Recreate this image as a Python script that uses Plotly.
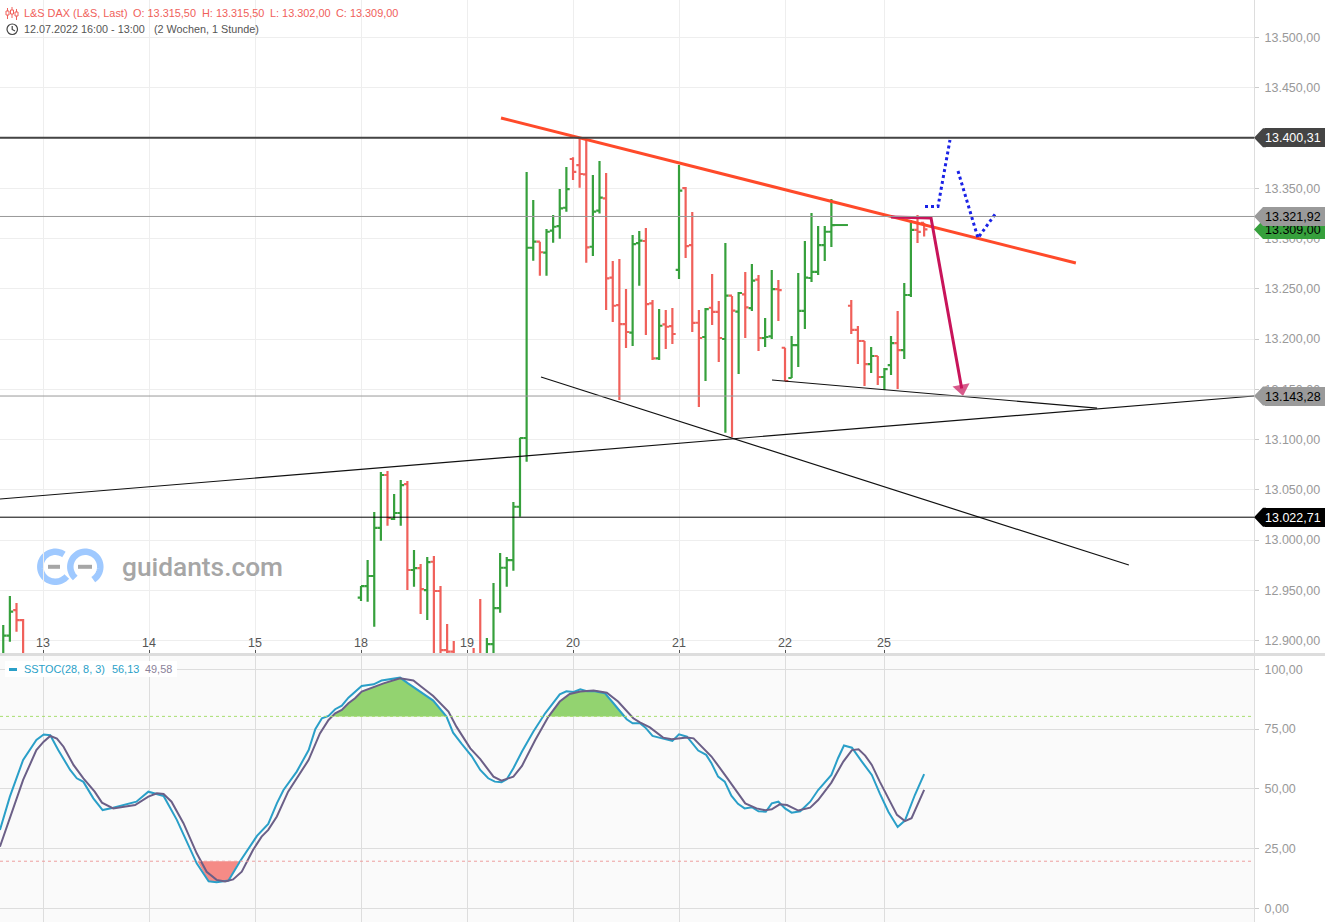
import math
import plotly.graph_objects as go
from plotly.subplots import make_subplots

W, H = 1325, 922

# ---------- price bars ----------
bar_x = [-54, -53, -52, -51,
         0, 1, 2, 3, 4, 5, 6, 7, 8, 9, 10, 11, 12, 13, 14, 17, 18, 19, 20, 21, 22, 23, 24, 25,
         26, 27, 28, 29, 30, 31, 32, 33, 34, 35, 36, 37, 38, 39, 40, 41, 42, 43, 44, 45, 46, 47,
         48, 49, 50, 51, 52, 53, 54, 55, 56, 57, 58, 59, 60, 61, 62, 63,
         64, 65, 66, 67, 68, 69, 70, 71, 74, 75, 76, 77, 78, 79, 80, 81, 82, 83, 84, 85]
bar_open = [12880.6, 12904.8, 12930.3, 12920.4,
            12942.6, 12954.2, 12964.2, 13012.0, 13064.7, 13020.9, 13026.9, 13055.7, 12970.2, 12972.1, 12950.2, 12978.4, 12949.3, 12890.5, 12888.9, 12885.0, 12883.0, 12884.0, 12896.5, 12932.3, 12972.4, 12980.1, 13033.1, 13101.5,
            13290.8, 13296.8, 13286.0, 13307.8, 13312.4, 13330.6, 13379.1, 13373.1, 13363.9, 13291.8, 13327.7, 13340.0, 13261.0, 13233.8, 13214.9, 13206.3, 13295.5, 13297.5, 13235.5, 13180.8, 13214.6, 13212.9,
            13268.7, 13350.2, 13293.5, 13216.2, 13202.0, 13231.1, 13226.9, 13200.0, 13243.1, 13227.2, 13244.5, 13230.8, 13259.0, 13201.0, 13202.7, 13249.7,
            13191.3, 13161.2, 13194.0, 13227.9, 13260.7, 13266.7, 13293.5, 13306.7, 13233.1, 13209.0, 13198.0, 13175.1, 13183.1, 13162.2, 13174.1, 13196.0, 13189.0, 13243.8, 13308.5, 13315.5]
bar_high = [12915.4, 12944.3, 12937.3, 12921.4,
            12954.2, 12980.1, 13027.9, 13067.7, 13068.7, 13045.8, 13059.7, 13058.7, 12990.1, 12976.1, 12983.1, 12984.1, 12954.2, 12916.4, 12899.5, 12892.5, 12941.3, 12902.5, 12957.2, 12987.0, 12983.1, 13037.8, 13101.8, 13366.2,
            13338.3, 13296.8, 13309.4, 13323.4, 13349.2, 13371.1, 13380.8, 13399.7, 13399.0, 13363.2, 13377.1, 13365.2, 13277.6, 13279.6, 13249.7, 13303.5, 13307.5, 13310.4, 13238.8, 13229.8, 13228.9, 13230.8,
            13373.1, 13351.2, 13326.4, 13228.9, 13230.8, 13264.7, 13237.8, 13295.5, 13242.8, 13246.8, 13266.7, 13274.6, 13263.7, 13220.9, 13268.6, 13258.7,
            13191.3, 13203.0, 13265.7, 13297.5, 13325.4, 13312.4, 13312.4, 13339.3, 13238.8, 13212.9, 13198.0, 13192.0, 13183.1, 13171.1, 13203.0, 13227.9, 13255.7, 13318.4, 13323.4, 13315.5]
bar_low = [12880.6, 12898.8, 12908.8, 12880.6,
           12939.3, 12938.6, 12913.7, 12999.3, 13014.2, 13019.9, 13014.2, 12950.2, 12953.6, 12926.4, 12920.4, 12880.6, 12880.6, 12880.6, 12880.6, 12880.6, 12880.6, 12880.6, 12884.6, 12927.7, 12953.6, 12969.5, 13023.2, 13077.9,
           13277.9, 13263.0, 13263.0, 13295.8, 13299.8, 13326.7, 13358.2, 13350.5, 13275.9, 13282.6, 13325.0, 13228.9, 13216.9, 13139.3, 13191.0, 13193.0, 13253.0, 13204.0, 13179.1, 13179.1, 13190.0, 13195.0,
           13259.7, 13280.6, 13207.0, 13132.3, 13158.2, 13213.9, 13177.1, 13106.8, 13102.2, 13165.2, 13201.0, 13227.9, 13188.0, 13192.0, 13200.0, 13217.9,
           13158.2, 13161.2, 13172.1, 13209.9, 13256.7, 13263.7, 13277.6, 13291.5, 13205.0, 13175.1, 13153.2, 13166.2, 13154.2, 13149.3, 13164.2, 13150.2, 13180.1, 13241.8, 13295.5, 13302.0]
bar_close = [12904.8, 12928.7, 12920.4, 12880.6,
             12954.2, 12964.2, 13012.0, 13064.7, 13021.9, 13026.9, 13054.7, 12970.2, 12972.1, 12951.2, 12978.1, 12949.3, 12890.5, 12888.9, 12882.6, 12883.0, 12882.0, 12896.5, 12932.3, 12972.4, 12980.1, 13033.1, 13101.5, 13290.8,
             13296.8, 13286.3, 13306.7, 13311.7, 13330.0, 13349.2, 13366.2, 13364.2, 13291.2, 13326.7, 13340.6, 13260.4, 13233.1, 13214.9, 13207.0, 13294.5, 13297.8, 13234.8, 13180.8, 13213.2, 13212.2, 13205.0,
             13347.6, 13292.5, 13216.0, 13201.0, 13229.8, 13226.9, 13201.0, 13243.1, 13228.2, 13245.8, 13231.5, 13258.0, 13201.0, 13202.0, 13249.7, 13248.7,
             13158.2, 13194.0, 13227.9, 13261.0, 13266.7, 13293.5, 13306.7, 13313.4, 13209.0, 13198.0, 13175.1, 13183.1, 13162.2, 13170.1, 13196.0, 13189.0, 13243.8, 13308.5, 13306.5, 13309.0]

day_ticks = [-48, -32, -16, 0, 16, 32, 48, 64, 79]
day_labels = ["13", "14", "15", "18", "19", "20", "21", "22", "25"]

# ---------- drawn lines (bar index, price) ----------
resistance_x = [21.13, 107.9]
resistance_y = [13419.9, 13275.6]
rising_x = [-54.49, 134.79]
rising_y = [13040.8, 13143.3]
falling_x = [27.17, 115.9]
falling_y = [13162.2, 12975.1]
flat_x = [62.04, 111.1]
flat_y = [13159.2, 13131.3]
close_stub_x = [71, 73.5]
close_stub_y = [13313.4, 13313.4]
arrow_x = [80, 86.04, 90.67]
arrow_y = [13321.4, 13320.4, 13150.7]
dotted_x = [85.13, 87.09, 88.9, None, 90.11, 93.13, 95.85]
dotted_y = [13331.8, 13331.8, 13398.0, None, 13367.2, 13300.5, 13325.4]

level_values = [13400.31, 13321.92, 13143.28, 13022.71]
level_colors = ["#444444", "#999999", "#999999", "#000000"]
level_widths = [2, 1, 1, 1]

tag_values = [13400.31, 13309.00, 13321.92, 13143.28, 13022.71]
tag_labels = ["13.400,31", "13.309,00", "13.321,92", "13.143,28", "13.022,71"]
tag_fills = ["#444444", "#36a03c", "#9a9a9a", "#9a9a9a", "#000000"]
tag_inks = ["#ffffff", "#000000", "#000000", "#000000", "#ffffff"]

header_texts = ["L&amp;S DAX (L&amp;S, Last)", "O: 13.315,50", "H: 13.315,50", "L: 13.302,00", "C: 13.309,00"]
header_lefts = [23, 132, 201, 269, 335]
period_texts = ["12.07.2022 16:00 - 13:00", "(2 Wochen, 1 Stunde)"]
period_lefts = [23, 153]

# ---------- SSTOC ----------
k_x = [-54.5, -53.0, -51.0, -49.0, -47.9, -46.9, -45.7, -43.9, -42.9, -41.9, -40.4, -39.0, -37.4, -35.4, -33.9, -32.1, -29.8, -27.8, -24.8, -23.0, -21.8, -20.0, -18.3, -15.7, -14.0, -12.7, -11.7, -9.7, -7.9, -6.9, -5.9, -4.9, -3.9, -2.9, -1.9, 0.1, 1.9, 3.1, 5.9, 7.1, 8.9, 10.9, 12.9, 13.9, 15.2, 16.7, 18.0,
       19.2, 20.2, 21.2, 22.0, 23.0, 24.3, 26.0, 27.8, 30.0, 31.0, 32.1, 33.1, 34.1, 35.3, 36.8, 38.1, 40.1, 41.0, 42.1, 42.9, 44.0, 45.6, 47.0, 48.0, 49.2, 50.9, 52.1, 52.9, 53.9, 54.9, 55.9, 56.9, 57.9, 59.0, 60.0, 61.1, 62.0, 63.0, 64.0, 65.0, 66.3, 67.8, 69.0, 71.0, 72.0, 72.9, 74.1, 75.6, 77.1, 78.3, 79.6, 81.0, 82.1, 83.6, 85.0]
k_y = [32.8, 46.7, 62.1, 70.4, 72.7, 72.4, 66.2, 57.9, 54.4, 52.9, 46.0, 41.1, 42.1, 43.7, 44.6, 48.8, 47.0, 37.0, 18.8, 11.3, 10.9, 11.6, 19.5, 30.3, 35.3, 43.9, 49.5, 57.2, 66.2, 74.9, 79.5, 80.5, 83.3, 84.8, 88.1, 93.0, 93.7, 95.3, 96.5, 94.1, 90.7, 86.9, 80.2, 73.5, 68.8, 63.7, 57.9,
       54.4, 53.0, 52.7, 54.0, 58.6, 65.6, 73.9, 81.6, 89.5, 90.8, 90.5, 91.6, 90.8, 90.8, 90.0, 85.8, 79.1, 77.4, 77.4, 75.7, 72.1, 71.0, 70.0, 72.8, 71.8, 66.0, 64.2, 60.7, 55.1, 53.0, 47.1, 43.7, 41.8, 42.3, 40.6, 40.4, 43.9, 44.6, 41.8, 40.0, 40.6, 44.6, 49.5, 55.8, 62.8, 68.1, 67.2, 61.4, 55.8, 48.1, 40.4, 34.0, 36.7, 47.4, 56.13]
d_x = [-54.5, -53.0, -51.0, -49.0, -47.9, -46.9, -45.9, -44.9, -43.4, -41.9, -40.2, -39.1, -37.4, -34.1, -32.1, -30.8, -29.8, -28.6, -26.8, -24.8, -23.3, -21.8, -20.5, -19.3, -18.0, -16.3, -15.0, -14.0, -12.7, -11.0, -9.5, -7.9, -6.2, -4.9, -3.9, -2.9, -1.9, -0.9, 0.1, 1.9, 3.4, 5.9, 7.9, 9.4, 10.9, 13.2, 14.4, 16.5, 18.0,
       20.0, 21.2, 23.0, 24.3, 26.3, 28.3, 30.0, 31.5, 33.1, 35.1, 37.1, 38.8, 41.1, 42.1, 43.6, 45.6, 46.9, 49.2, 50.2, 52.9, 55.2, 58.0, 59.7, 61.0, 62.0, 63.2, 64.3, 66.0, 67.8, 69.0, 71.0, 72.8, 74.1, 75.1, 76.1, 77.1, 78.3, 80.9, 82.1, 83.1, 85.0]
d_y = [25.8, 37.7, 53.7, 66.2, 69.7, 72.1, 71.0, 67.6, 60.0, 54.4, 48.8, 44.2, 41.8, 43.2, 46.7, 48.1, 47.8, 44.6, 35.6, 23.0, 15.3, 11.9, 11.2, 12.1, 15.3, 24.4, 30.0, 32.8, 38.4, 48.8, 55.4, 62.1, 73.2, 78.8, 81.6, 83.0, 85.8, 87.9, 90.7, 92.7, 94.1, 96.2, 95.3, 92.1, 88.8, 82.3, 76.0, 66.9, 62.4,
       55.1, 53.4, 55.1, 59.6, 70.4, 80.2, 86.5, 89.7, 90.7, 91.1, 90.2, 86.5, 79.5, 77.8, 75.7, 71.4, 70.7, 71.5, 71.1, 63.5, 54.8, 43.9, 41.8, 41.0, 41.4, 43.5, 43.2, 40.9, 42.1, 45.3, 52.6, 61.4, 66.2, 66.5, 63.9, 60.0, 53.0, 39.1, 36.5, 37.7, 49.58]

upper_zone_a_x = [-4.3, -3.9, -2.9, -1.9, -0.9, 0.1, 1.9, 3.4, 5.9, 7.1, 8.9, 10.9, 12.9, 13.0]
upper_zone_a_y = [80.3, 81.6, 83.0, 85.8, 87.9, 90.7, 92.7, 94.1, 96.2, 94.1, 90.7, 86.9, 80.3, 80.3]
upper_zone_b_x = [28.3, 30.0, 31.5, 33.1, 35.1, 36.8, 38.1, 40.0]
upper_zone_b_y = [80.3, 86.5, 89.7, 90.7, 90.8, 90.0, 85.8, 80.3]
lower_zone_x = [-24.7, -23.0, -21.8, -20.5, -20.0, -18.4]
lower_zone_y = [19.7, 11.3, 10.9, 11.2, 11.6, 19.7]
thresholds = [80.3, 19.7]
threshold_colors = ["#a8dd70", "#ee9e9e"]

GREEN, RED = "#36a03c", "#f0605a"
FONT = "Liberation Sans"

fig = make_subplots(rows=2, cols=1, shared_xaxes=False, vertical_spacing=0)

fig.add_trace(go.Ohlc(x=bar_x, open=bar_open, high=bar_high, low=bar_low, close=bar_close,
                      tickwidth=0.5, hoverinfo="skip",
                      increasing=dict(line=dict(color=GREEN, width=2.2)),
                      decreasing=dict(line=dict(color=RED, width=2.2))), row=1, col=1)


def line(x, y, color, width, dash="solid", row=1):
    fig.add_trace(go.Scatter(x=x, y=y, mode="lines", hoverinfo="skip",
                             line=dict(color=color, width=width, dash=dash)), row=row, col=1)


line(close_stub_x, close_stub_y, GREEN, 2)
line(rising_x, rising_y, "#111111", 1.2)
line(falling_x, falling_y, "#111111", 1.2)
line(flat_x, flat_y, "#111111", 1.2)
line(resistance_x, resistance_y, "#ff4a2a", 3)
line(dotted_x, dotted_y, "#1a22e6", 3, "dot")
fig.add_trace(go.Scatter(x=arrow_x, y=arrow_y, mode="lines+markers", hoverinfo="skip",
                         line=dict(color="#c8145a", width=3),
                         marker=dict(symbol="triangle-up", angleref="previous", size=[0, 0, 15],
                                     color="#c8145a", line=dict(width=0))), row=1, col=1)

for zx, zy in [(upper_zone_a_x, upper_zone_a_y), (upper_zone_b_x, upper_zone_b_y)]:
    fig.add_trace(go.Scatter(x=zx, y=zy, mode="lines", fill="toself", fillcolor="#93d370",
                             line=dict(width=0), hoverinfo="skip"), row=2, col=1)
fig.add_trace(go.Scatter(x=lower_zone_x, y=lower_zone_y, mode="lines", fill="toself",
                         fillcolor="#f58b86", line=dict(width=0), hoverinfo="skip"), row=2, col=1)
line(k_x, k_y, "#2a9fc8", 2, row=2)
line(d_x, d_y, "#6b5f87", 2, row=2)

X_RANGE = [-54.49, 134.79]
DOM_X = [0, 1254 / W]
fig.update_layout(width=W, height=H, margin=dict(l=0, r=0, t=0, b=0),
                  paper_bgcolor="#ffffff", plot_bgcolor="#ffffff", showlegend=False,
                  separators=",.", font=dict(family=FONT, size=12.5, color="#999999"),
                  xaxis=dict(domain=DOM_X, range=X_RANGE, anchor="y",
                             rangeslider=dict(visible=False),
                             tickmode="array", tickvals=day_ticks, showticklabels=False,
                             ticks="inside", ticklen=4, tickcolor="#555555",
                             showgrid=True, gridcolor="#eeeeee", gridwidth=1, zeroline=False),
                  xaxis2=dict(domain=DOM_X, range=X_RANGE, anchor="y2", matches="x",
                              tickmode="array", tickvals=day_ticks, showticklabels=False, ticks="",
                              showgrid=True, gridcolor="#dddddd", gridwidth=1, zeroline=False),
                  yaxis=dict(domain=[(H - 654) / H, 1], range=[12886.6, 13537.3], anchor="x",
                             side="right", tick0=12900, dtick=50, tickformat=",.2f",
                             ticks="outside", ticklen=4, tickcolor="#cccccc",
                             ticklabelstandoff=3, showgrid=True, gridcolor="#eeeeee", gridwidth=1,
                             zeroline=False, showline=True, linecolor="#dddddd", linewidth=1),
                  yaxis2=dict(domain=[0, (H - 656) / H], range=[-5.73, 105.56], anchor="x2",
                              side="right", tick0=0, dtick=25, tickformat=",.2f",
                              ticks="outside", ticklen=4, tickcolor="#cccccc",
                              ticklabelstandoff=3, showgrid=True, gridcolor="#dddddd", gridwidth=1,
                              zeroline=False, showline=True, linecolor="#dddddd", linewidth=1))

shapes = []
# lower pane background
shapes.append(dict(type="rect", xref="x2 domain", yref="y2 domain", x0=0, x1=1, y0=0, y1=1,
                   fillcolor="#fafafa", line=dict(width=0), layer="below"))
# horizontal levels
for val, col, wid in zip(level_values, level_colors, level_widths):
    shapes.append(dict(type="line", xref="x domain", yref="y", x0=0, x1=1, y0=val, y1=val,
                       line=dict(color=col, width=wid), layer="above"))
# thresholds
for val, col in zip(thresholds, threshold_colors):
    shapes.append(dict(type="line", xref="x2 domain", yref="y2", x0=0, x1=1, y0=val, y1=val,
                       line=dict(color=col, width=1, dash="dot"), layer="above"))
# pane separator
shapes.append(dict(type="rect", xref="paper", yref="paper", x0=0, x1=1,
                   y0=1 - 656 / H, y1=1 - 653 / H, fillcolor="#dddddd", line=dict(width=0),
                   layer="above"))
# value tag noses
for val, col in zip(tag_values, tag_fills):
    p0, p1, p2 = 1254 / W, 1263 / W, 1266 / W
    shapes.append(dict(type="path", xref="paper", yref="y",
                       path=f"M {p0} {val} L {p1} {val + 9.5} L {p2} {val + 9.5} "
                            f"L {p2} {val - 9.5} L {p1} {val - 9.5} Z",
                       fillcolor=col, line=dict(width=0), layer="above"))


def px_path(points):
    return "M " + " L ".join(f"{x / W:.5f} {1 - y / H:.5f}" for x, y in points)


def arc(cx, cy, r, a0, a1, steps=40):
    return [(cx + r * math.cos(math.radians(a0 + (a1 - a0) * i / steps)),
             cy - r * math.sin(math.radians(a0 + (a1 - a0) * i / steps))) for i in range(steps + 1)]


LOGO_BLUE = "#9fc9ff"
for pts in (arc(55.3, 566.8, 15, 55, 320), arc(85.3, 566.8, 15, 228, -58)):
    shapes.append(dict(type="path", xref="paper", yref="paper", path=px_path(pts),
                       line=dict(color=LOGO_BLUE, width=6.5), layer="below"))
for a, b in (((48, 566.8), (60, 566.8)), ((78, 566.8), (92, 566.8))):
    shapes.append(dict(type="path", xref="paper", yref="paper", path=px_path([a, b]),
                       line=dict(color="#a6a6a6", width=4), layer="below"))
# header icons
for x0, y0, y1 in ((7.5, 8, 19), (12, 7, 18), (16.5, 9, 20)):
    shapes.append(dict(type="path", xref="paper", yref="paper", path=px_path([(x0, y0), (x0, y1)]),
                       line=dict(color=RED, width=1), layer="above"))
    shapes.append(dict(type="rect", xref="paper", yref="paper", x0=(x0 - 1.5) / W, x1=(x0 + 1.5) / W,
                       y0=1 - (y0 + 7) / H, y1=1 - (y0 + 3) / H, fillcolor="#ffffff",
                       line=dict(color=RED, width=1), layer="above"))
shapes.append(dict(type="circle", xref="paper", yref="paper", x0=7 / W, x1=17.5 / W,
                   y0=1 - 34.5 / H, y1=1 - 24 / H, line=dict(color="#444444", width=1.2), layer="above"))
shapes.append(dict(type="path", xref="paper", yref="paper",
                   path=px_path([(12.2, 26), (12.2, 29.5), (15, 31)]),
                   line=dict(color="#444444", width=1.2), layer="above"))
# legend box and dash in the oscillator pane
shapes.append(dict(type="rect", xref="paper", yref="paper", x0=5 / W, x1=177 / W,
                   y0=1 - 677 / H, y1=1 - 661 / H, fillcolor="#ffffff", line=dict(width=0),
                   layer="above"))
shapes.append(dict(type="rect", xref="paper", yref="paper", x0=9 / W, x1=17 / W,
                   y0=1 - 671 / H, y1=1 - 668 / H, fillcolor="#2a9fc8", line=dict(width=0),
                   layer="above"))
fig.update_layout(shapes=shapes)

annotations = []
for val, lab, bg, ink in zip(tag_values, tag_labels, tag_fills, tag_inks):
    annotations.append(dict(xref="paper", yref="y", x=1265 / W, y=val, text=lab, showarrow=False,
                            xanchor="left", yanchor="middle", width=60, height=19, align="left",
                            bgcolor=bg, borderpad=0, borderwidth=0,
                            font=dict(family=FONT, size=12.5, color=ink)))


def paper_text(x, y, text, size, color, family=FONT, weight=None):
    f = dict(family=family, size=size, color=color)
    if weight:
        f["weight"] = weight
    annotations.append(dict(xref="paper", yref="paper", x=x / W, y=1 - y / H, text=text,
                            showarrow=False, xanchor="left", yanchor="middle", align="left",
                            borderpad=0, font=f))


for tick, lab in zip(day_ticks, day_labels):
    annotations.append(dict(xref="x", yref="paper", x=tick, y=1 - 643 / H, text=lab, showarrow=False,
                            xanchor="center", yanchor="middle",
                            font=dict(family=FONT, size=12.5, color="#555555")))
for t, x in zip(header_texts, header_lefts):
    paper_text(x, 13.5, t, 10.9, RED)
for t, x in zip(period_texts, period_lefts):
    paper_text(x, 29, t, 10.8, "#555555")
paper_text(121, 567, "guidants.com", 26.3, "#a6a6a6", family="Roboto", weight=500)
paper_text(22.5, 669, "SSTOC(28, 8, 3)", 10.9, "#2a9fc8")
paper_text(110.5, 669, "56,13", 10.9, "#2a9fc8")
paper_text(143.5, 669, "49,58", 10.9, "#8a8199")
fig.update_layout(annotations=annotations)

fig.write_html("out.html", config=dict(displayModeBar=False),
               post_script="document.body.style.margin='0';"
                           "document.documentElement.style.overflow='hidden';")
